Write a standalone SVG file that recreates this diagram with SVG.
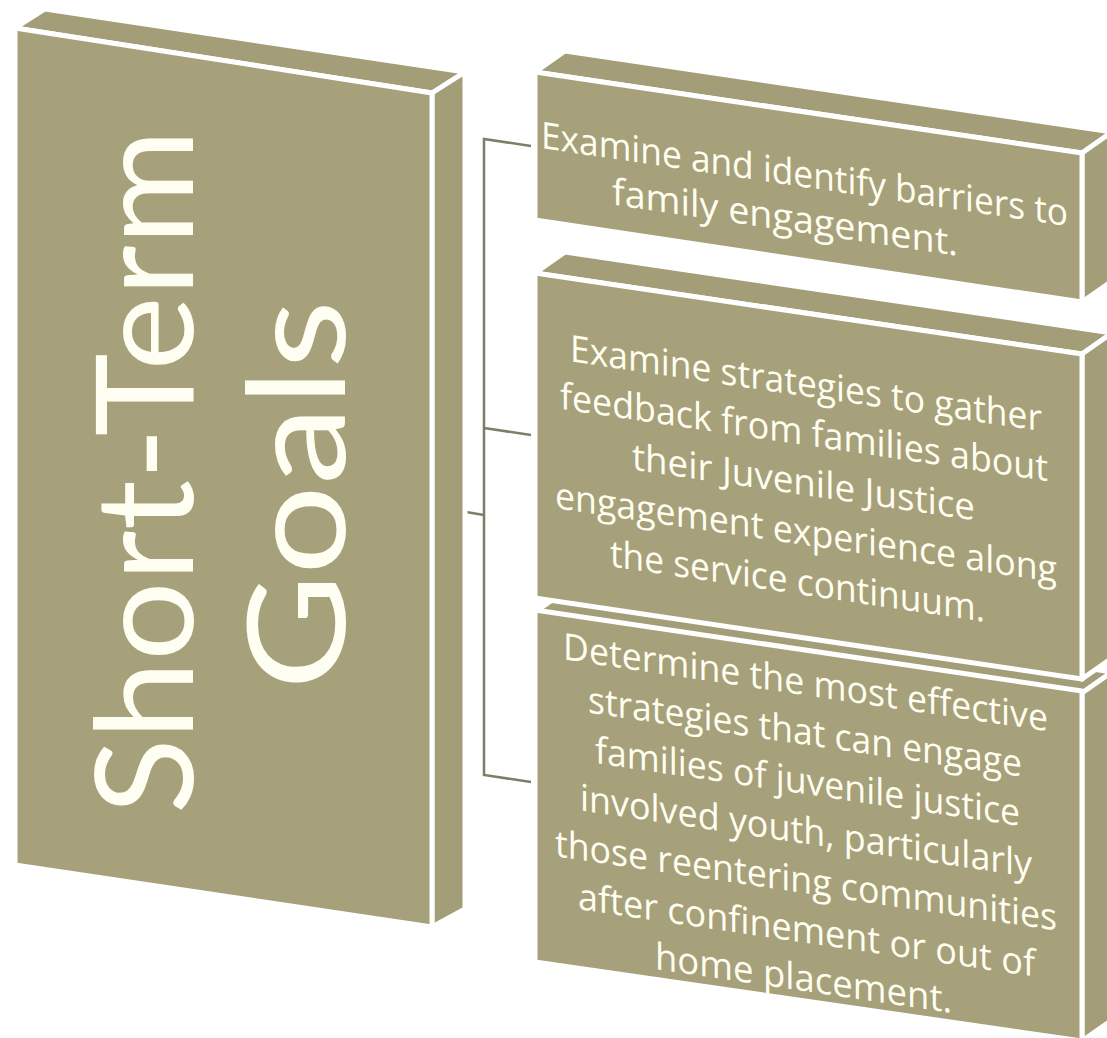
<svg xmlns="http://www.w3.org/2000/svg" width="1107" height="1038" viewBox="0 0 1107 1038">
<style>
.face{fill:#A6A17B;stroke:#FFFFFF;stroke-width:5;stroke-linejoin:round}
.side{fill:#A39E78;stroke:#FFFFFF;stroke-width:5;stroke-linejoin:round}
.big{font-family:Lato,"Liberation Sans",sans-serif;font-weight:400;font-size:135px;fill:#FFFEF2;text-anchor:middle}
.txt{font-family:"Open Sans","Liberation Sans",Arial,sans-serif;font-size:37px;fill:#FFFEF0;text-anchor:middle}
.conn{fill:none;stroke:#7E7E66;stroke-width:2.5}
</style>
<rect width="1107" height="1038" fill="#FFFFFF"/>
<g id="connectors">
<polyline class="conn" points="531,146 484,139 484,775 531,782"/>
<polyline class="conn" points="484,428 531,435"/>
<polyline class="conn" points="466,512 484,515"/>
</g>
<g id="short-term-goals">
<polygon class="side" points="15,28 45,9 465,72 432,93"/>
<polygon class="side" points="432,93 465,72 465,909 432,927"/>
<polygon class="face" points="15,28 432,93 432,927 15,865"/>
<text class="big" transform="translate(193,472) rotate(-90)" textLength="685" lengthAdjust="spacingAndGlyphs">Short-Term</text>
<text class="big" transform="translate(345,495) rotate(-90)" textLength="390" lengthAdjust="spacingAndGlyphs">Goals</text>
</g>
<g id="goal-3">
<polygon class="side" points="535,612 565,591 1112,672 1082,693"/>
<polygon class="side" points="1082,693 1112,672 1112,1020 1082,1041"/>
<polygon class="face" points="535,610 1082,691 1082,1041 535,962"/>
<g transform="matrix(1,0.148,0,1,0,0)">
<text class="txt" x="805.5" y="576" textLength="485" lengthAdjust="spacingAndGlyphs">Determine the most effective</text>
<text class="txt" x="805" y="625.5" textLength="434" lengthAdjust="spacingAndGlyphs">strategies that can engage</text>
<text class="txt" x="807.5" y="675" textLength="425" lengthAdjust="spacingAndGlyphs">families of juvenile justice</text>
<text class="txt" x="806" y="724.5" textLength="452" lengthAdjust="spacingAndGlyphs">involved youth, particularly</text>
<text class="txt" x="806" y="774" textLength="502" lengthAdjust="spacingAndGlyphs">those reentering communities</text>
<text class="txt" x="806.5" y="823.5" textLength="457" lengthAdjust="spacingAndGlyphs">after confinement or out of</text>
<text class="txt" x="803.5" y="872" textLength="297" lengthAdjust="spacingAndGlyphs">home placement.</text>
</g>
</g>
<g id="goal-2">
<polygon class="side" points="535,273 565,252 1112,333 1082,354"/>
<polygon class="side" points="1082,354 1112,333 1112,658 1082,679"/>
<polygon class="face" points="535,273 1082,354 1082,679 535,598"/>
<g transform="matrix(1,0.148,0,1,0,0)">
<text class="txt" x="806" y="277" textLength="472" lengthAdjust="spacingAndGlyphs">Examine strategies to gather</text>
<text class="txt" x="804" y="326" textLength="488" lengthAdjust="spacingAndGlyphs">feedback from families about</text>
<text class="txt" x="803.5" y="376" textLength="343" lengthAdjust="spacingAndGlyphs">their Juvenile Justice</text>
<text class="txt" x="806" y="426" textLength="502" lengthAdjust="spacingAndGlyphs">engagement experience along</text>
<text class="txt" x="797.5" y="476" textLength="375" lengthAdjust="spacingAndGlyphs">the service continuum.</text>
</g>
</g>
<g id="goal-1">
<polygon class="side" points="535,72 565,51 1112,132 1082,153"/>
<polygon class="side" points="1082,153 1112,132 1112,281 1082,302"/>
<polygon class="face" points="535,72 1082,153 1082,302 535,220"/>
<g transform="matrix(1,0.148,0,1,0,0)">
<text class="txt" x="804.5" y="68" textLength="527" lengthAdjust="spacingAndGlyphs">Examine and identify barriers to</text>
<text class="txt" x="785" y="114" textLength="346" lengthAdjust="spacingAndGlyphs">family engagement.</text>
</g>
</g>
</svg>
